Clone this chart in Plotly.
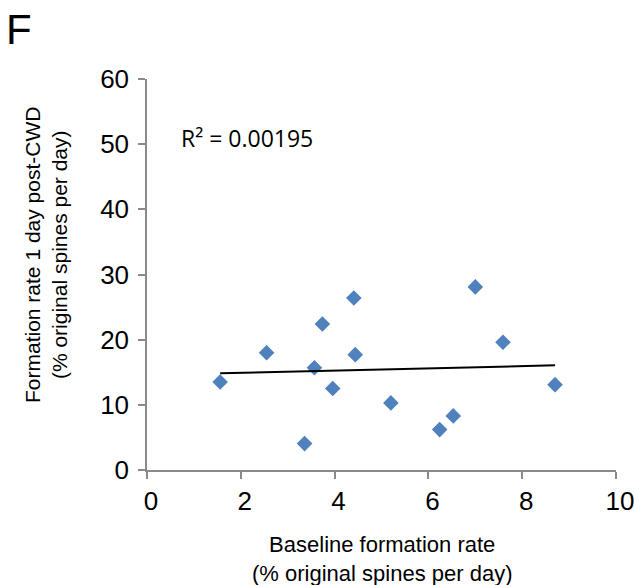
import numpy as np
import plotly.graph_objects as go

# Data
baseline_rate = [1.56, 2.55, 3.36, 3.57, 3.74, 3.96, 4.41, 4.44, 5.20, 6.24, 6.53, 7.00, 7.59, 8.70]
post_cwd_rate = [13.5, 18.0, 4.05, 15.7, 22.4, 12.5, 26.4, 17.7, 10.3, 6.2, 8.3, 28.1, 19.6, 13.1]
x_ticks = [0, 2, 4, 6, 8, 10]
y_ticks = [0, 10, 20, 30, 40, 50, 60]
r2_label = "R² = 0.00195"
panel_label = "F"
x_title = "Baseline formation rate<br>(% original spines per day)"
y_title = "Formation rate 1 day post-CWD<br>(% original spines per day)"

slope, intercept = np.polyfit(baseline_rate, post_cwd_rate, 1)
fit_x = [min(baseline_rate), max(baseline_rate)]
fit_y = [slope * v + intercept for v in fit_x]

fig = go.Figure()
fig.add_trace(go.Scatter(
    x=baseline_rate, y=post_cwd_rate, mode="markers",
    marker=dict(symbol="diamond", size=12, color="#4F81BD", line=dict(width=0)),
    showlegend=False, hoverinfo="x+y"))
fig.add_trace(go.Scatter(
    x=fit_x, y=fit_y, mode="lines",
    line=dict(color="black", width=2), showlegend=False, hoverinfo="skip"))

axis_color = "#8a8a8a"
tick_font = dict(family="Liberation Sans, Arial, sans-serif", size=26, color="black")
common = dict(showline=True, linecolor=axis_color, linewidth=1.5, ticks="outside",
              ticklen=7, tickwidth=1.5, tickcolor=axis_color, showgrid=False,
              zeroline=False, tickfont=tick_font, fixedrange=True, automargin=False)

# plot area in pixels: x 147..616, y 79..470
def px_x(p):
    return (p - 147) / 469

def px_y(p):
    return (470 - p) / 391

fig.update_layout(
    width=634, height=585,
    margin=dict(l=147, r=18, t=79, b=115),
    paper_bgcolor="white", plot_bgcolor="white",
    xaxis=dict(range=[0, 10], tickvals=x_ticks, ticklabelshift=4,
               ticklabeloverflow="allow", **common),
    yaxis=dict(range=[0, 60], tickvals=y_ticks, ticklabelstandoff=4, **common),
    annotations=[
        dict(text=panel_label, xref="paper", yref="paper", x=px_x(19), y=px_y(29),
             xanchor="center", yanchor="middle", showarrow=False,
             font=dict(family="Liberation Sans, Arial, sans-serif", size=42, color="black")),
        dict(text=r2_label, xref="paper", yref="paper", x=px_x(179), y=px_y(138),
             xanchor="left", yanchor="middle", showarrow=False,
             font=dict(family="Open Sans, sans-serif", size=23, color="black")),
        dict(text=x_title, xref="paper", yref="paper", x=px_x(382), y=px_y(559),
             xanchor="center", yanchor="middle", showarrow=False,
             font=dict(family="Liberation Sans, Arial, sans-serif", size=22, color="black")),
        dict(text=y_title, xref="paper", yref="paper", x=px_x(46), y=px_y(255),
             xanchor="center", yanchor="middle", showarrow=False, textangle=-90,
             font=dict(family="Liberation Sans, Arial, sans-serif", size=21, color="black")),
    ],
)

fig.write_html("out.html")
